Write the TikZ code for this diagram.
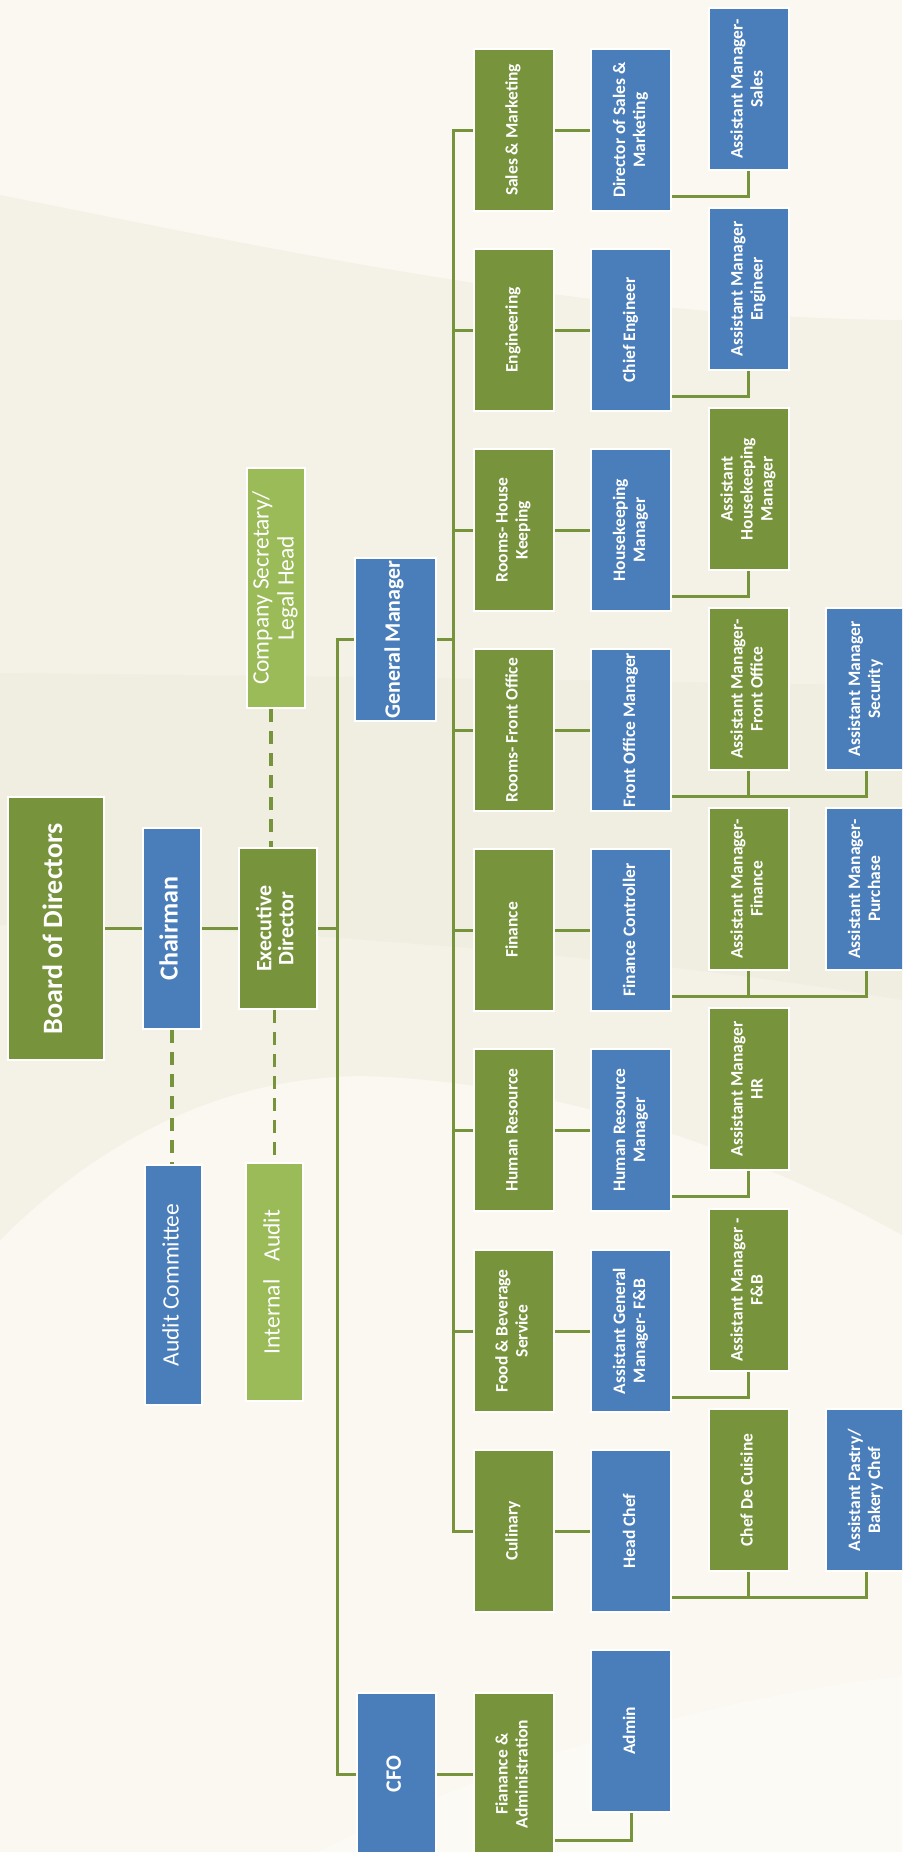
\documentclass[tikz,border=0pt]{standalone}
\usepackage{fontspec}
\setmainfont{Carlito}
\usepackage{graphicx}
\usetikzlibrary{calc}
\definecolor{dgreen}{HTML}{77933C}
\definecolor{lgreen}{HTML}{9BBB59}
\definecolor{mblue}{HTML}{4A7EBB}
\definecolor{linec}{HTML}{77933C}
\definecolor{bgbase}{HTML}{FAF8F0}
\definecolor{bgA}{HTML}{F4F2E7}
\definecolor{bgB}{HTML}{F0EEE1}
\definecolor{bgC}{HTML}{FCFAF5}
\pgfdeclarelayer{background}
\pgfdeclarelayer{lines}
\pgfsetlayers{background,lines,main}
\newcommand{\rtext}[2]{\rotatebox{90}{#1\begin{tabular}{@{}c@{}}#2\end{tabular}}}
\newcommand{\fdept}{\fontsize{17.5}{20}\selectfont\bfseries}
\newcommand{\fmid}{\fontsize{22}{22}\selectfont\bfseries}
\newcommand{\flight}{\fontsize{23.5}{25}\selectfont}
\begin{document}
\begin{tikzpicture}[x=1pt,y=-1pt,
  box/.style={draw=white,line width=2pt,inner sep=0pt,text=white,align=center},
  gbox/.style={box,fill=dgreen},
  bbox/.style={box,fill=mblue},
  lbox/.style={box,fill=lgreen},
  cell/.style={minimum width=80pt,minimum height=162pt},
  conn/.style={draw=linec,line width=3pt},
  dashline/.style={draw=linec,line width=3.3pt,dash pattern=on 13pt off 9pt}]
\useasboundingbox (0,0) rectangle (902,1852);
\clip (0,0) rectangle (902,1852);
\begin{pgfonlayer}{background}
\fill[bgbase] (0,0) rectangle (902,1852);
\fill[bgA] (0,195) .. controls (300,255) and (600,318) .. (902,320) -- (902,1235) .. controls (750,1150) and (550,1080) .. (360,1076) .. controls (200,1078) and (80,1160) .. (0,1240) -- cycle;
\fill[bgB] (0,673) .. controls (300,676) and (600,680) .. (902,686) -- (902,1000) .. controls (700,965) and (500,950) .. (300,935) .. controls (200,930) and (100,925) .. (0,925) -- cycle;
\fill[bgC] (318,1852) .. controls (500,1760) and (700,1700) .. (902,1676) -- (902,1852) -- cycle;
\end{pgfonlayer}
% top levels
\node[gbox,minimum width=96pt,minimum height=263pt] (board) at (56,928.5) {\rtext{\fontsize{28}{30}\selectfont\bfseries}{Board of Directors}};
\node[bbox,minimum width=58pt,minimum height=201pt] (chair) at (172,928.5) {\rtext{\fontsize{26}{28}\selectfont\bfseries}{Chairman}};
\node[gbox,minimum width=78pt,minimum height=161pt] (exec) at (278,928.5) {\rtext{\fmid}{Executive\\Director}};
\node[lbox,minimum width=58pt,minimum height=240pt] (cs) at (276,588) {\rtext{\flight}{Company Secretary/\\Legal Head}};
\node[bbox,minimum width=57pt,minimum height=240pt] (audit) at (173.5,1285) {\rtext{\flight}{Audit Committee}};
\node[lbox,minimum width=57pt,minimum height=238pt] (ia) at (274.5,1282) {\rtext{\flight}{Internal\hspace{18pt}Audit}};
\node[bbox,minimum width=81pt,minimum height=163pt] (gm) at (395.5,639.5) {\rtext{\fmid}{General Manager}};
\node[bbox,minimum width=79pt,minimum height=163pt] (cfo) at (396.5,1774) {\rtext{\fmid}{CFO}};
\node[gbox,cell] (fa) at (513.5,1774) {\rtext{\fdept}{Fianance \&\\Administration}};
\node[bbox,cell] (admin) at (631,1731) {\rtext{\fdept}{Admin}};
% departments
\node[gbox,cell] (d1) at (513.5,130) {\rtext{\fdept}{Sales \& Marketing}};
\node[gbox,cell] (d2) at (513.5,330) {\rtext{\fdept}{Engineering}};
\node[gbox,cell] (d3) at (513.5,530) {\rtext{\fdept}{Rooms- House\\Keeping}};
\node[gbox,cell] (d4) at (513.5,730) {\rtext{\fdept}{Rooms- Front Office}};
\node[gbox,cell] (d5) at (513.5,930) {\rtext{\fdept}{Finance}};
\node[gbox,cell] (d6) at (513.5,1130) {\rtext{\fdept}{Human Resource}};
\node[gbox,cell] (d7) at (513.5,1331) {\rtext{\fdept}{Food \& Beverage\\Service}};
\node[gbox,cell] (d8) at (513.5,1531) {\rtext{\fdept}{Culinary}};
% heads
\node[bbox,cell] (f1) at (631,130) {\rtext{\fdept}{Director of Sales \&\\Marketing}};
\node[bbox,cell] (f2) at (631,330) {\rtext{\fdept}{Chief Engineer}};
\node[bbox,cell] (f3) at (631,530) {\rtext{\fdept}{Housekeeping\\Manager}};
\node[bbox,cell] (f4) at (631,730) {\rtext{\fdept}{Front Office Manager}};
\node[bbox,cell] (f5) at (631,930) {\rtext{\fdept}{Finance Controller}};
\node[bbox,cell] (f6) at (631,1130) {\rtext{\fdept}{Human Resource\\Manager}};
\node[bbox,cell] (f7) at (631,1331) {\rtext{\fdept}{Assistant General\\Manager- F\&B}};
\node[bbox,cell] (f8) at (631,1531) {\rtext{\fdept}{Head Chef}};
% assistants
\node[bbox,cell] (g1) at (748.5,89) {\rtext{\fdept}{Assistant Manager-\\Sales}};
\node[bbox,cell] (g2) at (748.5,289) {\rtext{\fdept}{Assistant Manager\\Engineer}};
\node[gbox,cell] (g3) at (748.5,489) {\rtext{\fdept}{Assistant\\Housekeeping\\Manager}};
\node[gbox,cell] (g4) at (748.5,689) {\rtext{\fdept}{Assistant Manager-\\Front Office}};
\node[gbox,cell] (g5) at (748.5,889) {\rtext{\fdept}{Assistant Manager-\\Finance}};
\node[gbox,cell] (g6) at (748.5,1089) {\rtext{\fdept}{Assistant Manager\\HR}};
\node[gbox,cell] (g7) at (748.5,1290) {\rtext{\fdept}{Assistant Manager -\\F\&B}};
\node[gbox,cell] (g8) at (748.5,1490) {\rtext{\fdept}{Chef De Cuisine}};
\node[bbox,cell] (h4) at (866,689) {\rtext{\fdept}{Assistant Manager\\Security}};
\node[bbox,cell] (h5) at (866,889) {\rtext{\fdept}{Assistant Manager-\\Purchase}};
\node[bbox,cell] (h8) at (866,1490) {\rtext{\fdept}{Assistant Pastry/\\Bakery Chef}};
% connectors
\begin{pgfonlayer}{lines}
\draw[conn] (board) -- (chair);
\draw[conn] (chair) -- (exec);
\coordinate (trunk) at ($(gm.west)+(-17,0)$);
\coordinate (bus) at ($(gm.east)+(16,0)$);
\draw[conn] (gm.west) -- (trunk) |- (cfo.west);
\draw[conn] (exec.east) -- (exec.east -| trunk);
\draw[conn] (gm.east) -- (bus);
\draw[conn] (d1.west) -- (d1.west -| bus) -- (d8.west -| bus) -- (d8.west);
\foreach \i in {2,...,7} \draw[conn] (d\i.west) -- (d\i.west -| bus);
\foreach \i in {1,...,8} {
  \draw[conn] (d\i) -- (f\i);
  \draw[conn] ($(f\i.east)+(0,66)$) -| (g\i.south);
}
\foreach \i in {4,5,8} \draw[conn] ($(f\i.east)+(0,66)$) -| (h\i.south);
\draw[conn] (cfo) -- (fa);
\draw[conn] ($(fa.east)+(0,66)$) -| (admin.south);
\draw[dashline] (chair.south) -- (chair.south |- audit.north);
\draw[dashline] ([xshift=-5pt]cs.south) -- ([xshift=-5pt]cs.south |- exec.north);
\draw[dashline] (exec.south -| ia.north) -- (ia.north);
\end{pgfonlayer}
\end{tikzpicture}
\end{document}
